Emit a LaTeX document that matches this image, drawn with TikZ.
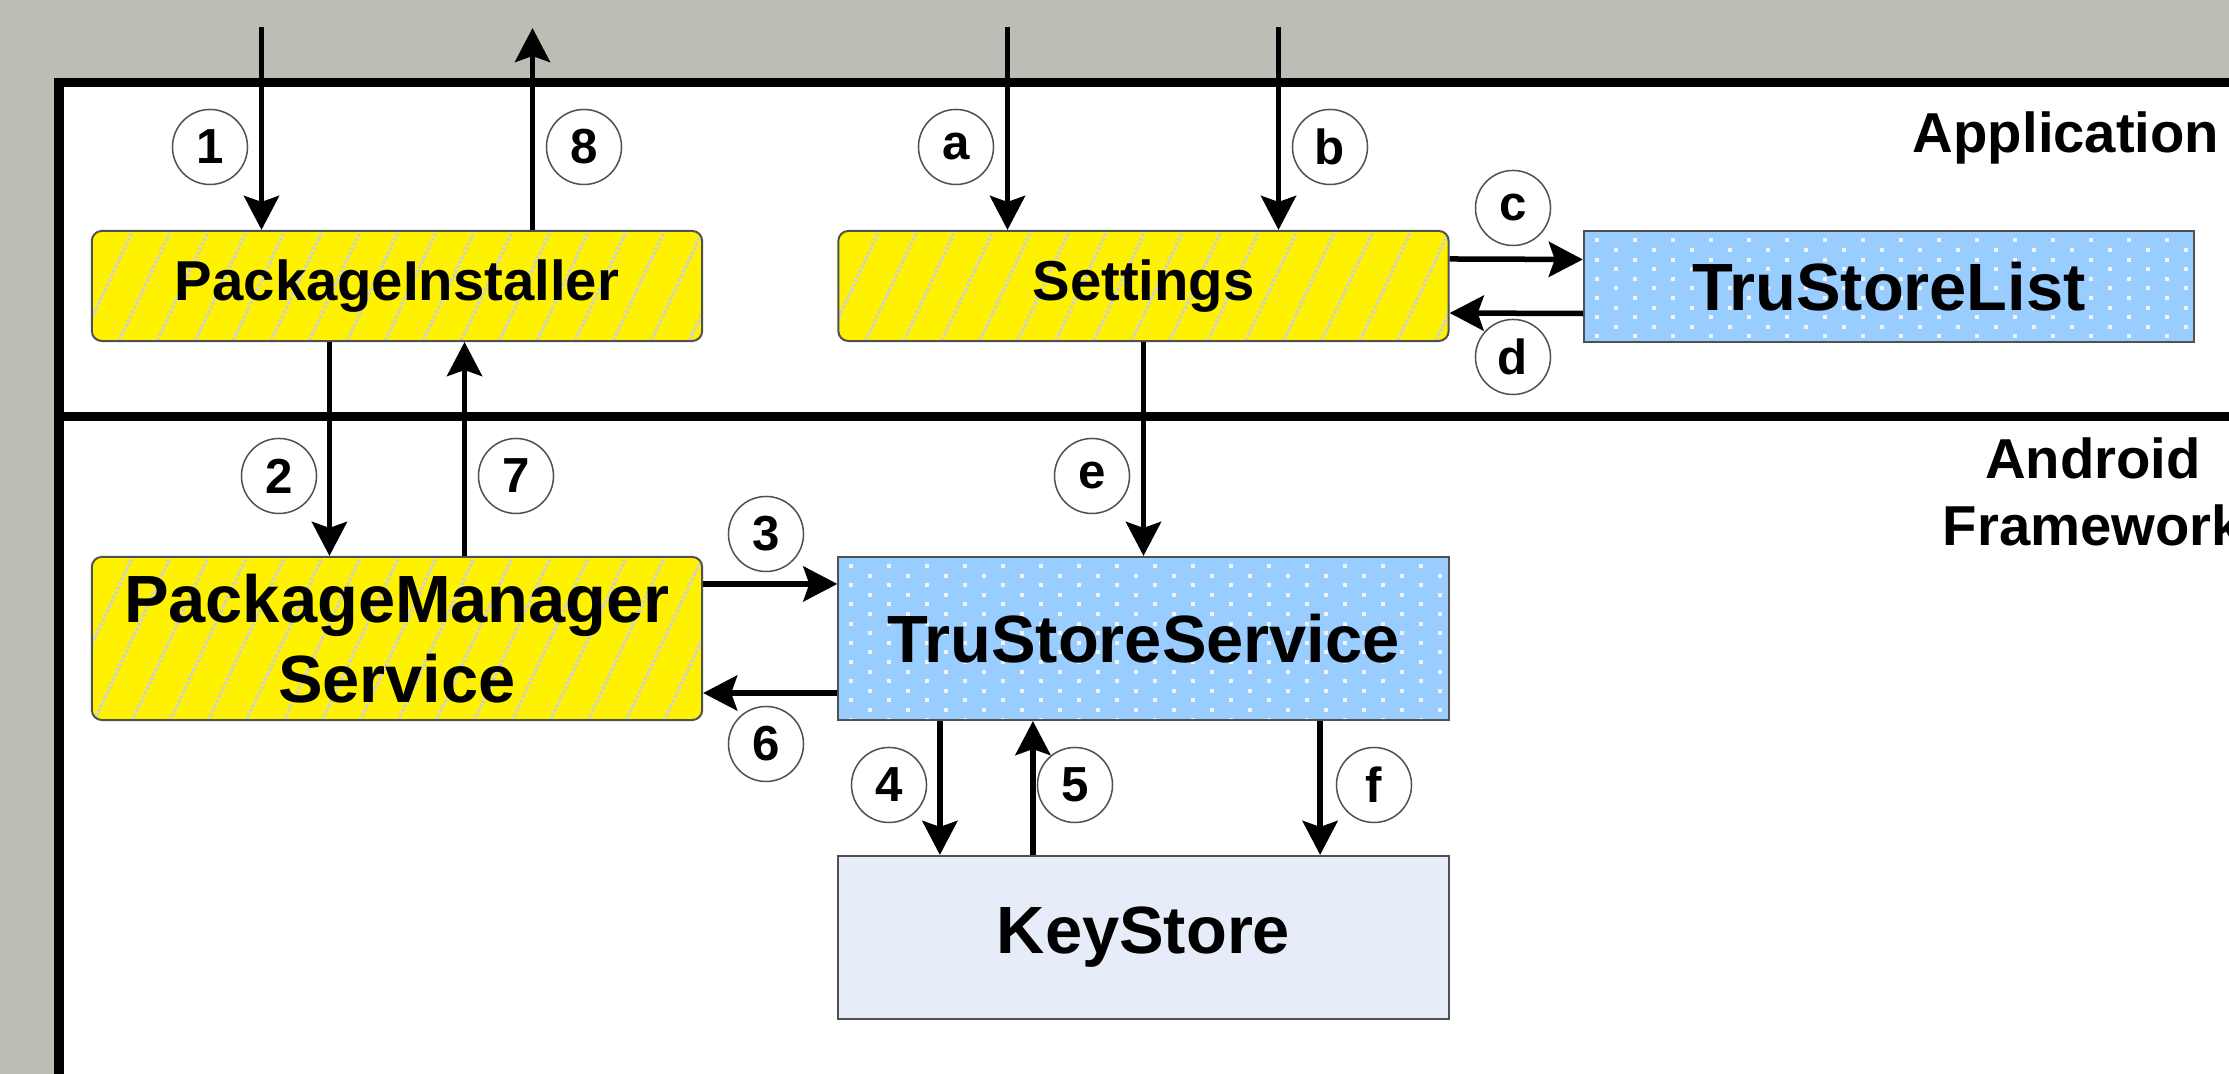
\documentclass[tikz,border=0pt]{standalone}
\usepackage{fontspec}
\setmainfont{Liberation Sans}
\usetikzlibrary{arrows.meta}
\definecolor{bggray}{RGB}{188,190,182}
\definecolor{tsblue}{RGB}{153,204,255}
\definecolor{ksblue}{RGB}{230,236,248}
\definecolor{boxline}{RGB}{80,80,80}
\definecolor{dotcol}{RGB}{242,242,242}
\definecolor{hatchcol}{RGB}{208,208,208}
\begin{document}
\begin{tikzpicture}[x=0.01cm, y=-0.01cm,
  smallfont/.style={font=\bfseries\fontsize{16}{19.2}\selectfont},
  bigfont/.style={font=\bfseries\fontsize{19}{22.8}\selectfont},
  box/.style={draw=boxline, line width=0.02cm, minimum width=6.1cm, inner sep=0pt, align=center},
  yelbox/.style={box, rounded corners=0.1cm, fill=yellow, path picture={
    \foreach \x in {-190,-152,...,650}
      \draw[hatchcol, line width=0.035cm, dash pattern=on 0.03cm off 0.02cm]
        ([xshift=\x*0.01cm, yshift=-2.5cm]path picture bounding box.north west) -- ++(1.4cm,3cm);}},
  bluebox/.style={box, fill=tsblue, path picture={
    \foreach \r in {0,...,17} \foreach \c in {0,...,16}
      \fill[dotcol] ([xshift={(11+38*\c+19*mod(\r,2))*0.01cm}, yshift={-(7+9.6*\r)*0.01cm}]path picture bounding box.north west)
        rectangle ++(0.04cm,-0.04cm);}},
  keybox/.style={box, fill=ksblue},
  num/.style={circle, draw=boxline, line width=0.015cm, fill=white, minimum size=0.75cm, inner sep=0pt, font=\bfseries\fontsize{14}{16}\selectfont},
  arr/.style={line width=0.055cm, -{Stealth[length=0.34cm, width=0.35cm, inset=0.06cm]}},
  lbl/.style={smallfont, inner sep=0pt}]
\useasboundingbox (0,0) rectangle (2229,1074);
\fill[bggray] (0,0) rectangle (2229,1074);
\fill[white] (59,83) rectangle (2229,1074);
\draw[line width=0.09cm] (59,1090) -- (59,83) -- (2240,83);
\draw[line width=0.09cm] (59,417) -- (2240,417);

\node[lbl, anchor=base east] (app) at (2220,153) {Application};
\node[lbl, align=center, anchor=north] (fw) at (2093,437) {Android\\Framework};

\node[yelbox, minimum height=1.1cm, smallfont] (pkginst) at (397,286) {PackageInstaller};
\node[yelbox, minimum height=1.1cm, smallfont] (settings) at (1143.5,286) {Settings};
\node[bluebox, minimum height=1.1cm, bigfont] (tslist) at (1889,286.5) {TruStoreList};
\node[yelbox, minimum height=1.63cm, bigfont] (pms) at (397,638.5) {PackageManager\\Service};
\node[bluebox, minimum height=1.63cm, bigfont] (tss) at (1143.5,638.5) {TruStoreService};
\node[keybox, minimum height=1.63cm, bigfont] (keystore) at (1143.5,937.5) {KeyStore};

\coordinate (in1) at (261.5,27);
\coordinate (out8) at (532.5,28);
\coordinate (ina) at (1007.5,27);
\coordinate (inb) at (1278.5,27);

\draw[arr] (in1) -- (in1 |- pkginst.north);
\draw[arr] (out8 |- pkginst.north) -- (out8);
\draw[arr] (ina) -- (ina |- settings.north);
\draw[arr] (inb) -- (inb |- settings.north);
\draw[arr] ([yshift=0.27cm]settings.east) -- ([yshift=0.27cm]tslist.west);
\draw[arr] ([yshift=-0.27cm]tslist.west) -- ([yshift=-0.27cm]settings.east);
\draw[arr] ([xshift=-0.675cm]pkginst.south) -- ([xshift=-0.675cm]pms.north);
\draw[arr] ([xshift=0.675cm]pms.north) -- ([xshift=0.675cm]pkginst.south);
\draw[arr] (settings.south) -- (tss.north);
\draw[arr] ([yshift=0.545cm]pms.east) -- ([yshift=0.545cm]tss.west);
\draw[arr] ([yshift=-0.545cm]tss.west) -- ([yshift=-0.545cm]pms.east);
\draw[arr] ([xshift=-2.035cm]tss.south) -- ([xshift=-2.035cm]keystore.north);
\draw[arr] ([xshift=-1.105cm]keystore.north) -- ([xshift=-1.105cm]tss.south);
\draw[arr] ([xshift=1.765cm]tss.south) -- ([xshift=1.765cm]keystore.north);

\node[num] (n1) at (210,147) {1};
\node[num] (n8) at (584,147) {8};
\node[num] (na) at (956,147) {a};
\node[num] (nb) at (1330,147) {b};
\node[num] (nc) at (1513,208) {c};
\node[num] (nd) at (1513,357) {d};
\node[num] (n2) at (279,476) {2};
\node[num] (n7) at (516,476) {7};
\node[num] (ne) at (1092,476) {e};
\node[num] (n3) at (766,534) {3};
\node[num] (n6) at (766,744) {6};
\node[num] (n4) at (889,785) {4};
\node[num] (n5) at (1075,785) {5};
\node[num] (nf) at (1374,785) {f};

\end{tikzpicture}
\end{document}
